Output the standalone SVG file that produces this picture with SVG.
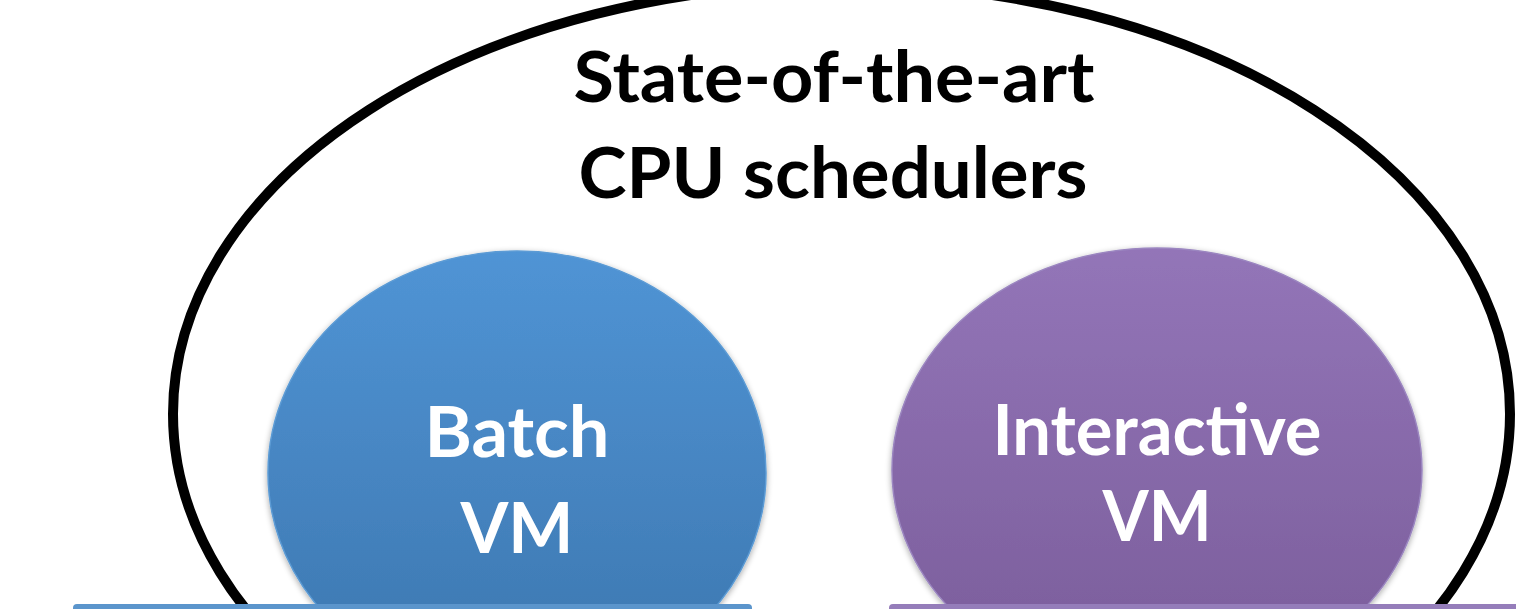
<svg xmlns="http://www.w3.org/2000/svg" width="1516" height="609" viewBox="0 0 1516 609">
  <style>
    .title { font-family: Lato, "Open Sans", "Liberation Sans", sans-serif; font-weight: 700; font-size: 70px; fill: #000000; text-anchor: middle; }
    .label { font-family: Lato, "Open Sans", "Liberation Sans", sans-serif; font-weight: 700; font-size: 70px; fill: #ffffff; text-anchor: middle; }
  </style>
  <defs>
    <linearGradient id="gBlue" x1="0" y1="0" x2="0" y2="1">
      <stop offset="0" stop-color="#5094d5"/>
      <stop offset="1" stop-color="#3c76ae"/>
    </linearGradient>
    <linearGradient id="gPurple" x1="0" y1="0" x2="0" y2="1">
      <stop offset="0" stop-color="#9375b8"/>
      <stop offset="1" stop-color="#795c99"/>
    </linearGradient>
    <filter id="shadow" x="-10%" y="-10%" width="120%" height="120%">
      <feGaussianBlur in="SourceAlpha" stdDeviation="3"/>
      <feOffset dx="0" dy="2" result="b"/>
      <feComponentTransfer><feFuncA type="linear" slope="0.35"/></feComponentTransfer>
      <feMerge><feMergeNode/><feMergeNode in="SourceGraphic"/></feMerge>
    </filter>
  </defs>
  <rect x="0" y="0" width="1516" height="609" fill="#ffffff"/>

  <g id="outer">
    <ellipse cx="841.5" cy="414" rx="668.5" ry="430" fill="none" stroke="#000000" stroke-width="10"/>
    <text class="title" x="834" y="102" textLength="521" lengthAdjust="spacingAndGlyphs">State-of-the-art</text>
    <text class="title" x="833" y="198" textLength="509" lengthAdjust="spacingAndGlyphs">CPU schedulers</text>
  </g>

  <g id="batch">
    <ellipse cx="517" cy="473" rx="249" ry="222" fill="url(#gBlue)" stroke="#5b9bd5" stroke-width="1.5" filter="url(#shadow)"/>
    <text class="label" x="517" y="457" textLength="185" lengthAdjust="spacingAndGlyphs">Batch</text>
    <text class="label" x="517" y="553" textLength="113" lengthAdjust="spacingAndGlyphs">VM</text>
  </g>

  <g id="interactive">
    <ellipse cx="1157" cy="470" rx="265" ry="222" fill="url(#gPurple)" stroke="#9b86c0" stroke-width="1.5" filter="url(#shadow)"/>
    <text class="label" x="1157" y="455" textLength="329" lengthAdjust="spacingAndGlyphs">Interactive</text>
    <text class="label" x="1157" y="541" textLength="109" lengthAdjust="spacingAndGlyphs">VM</text>
  </g>

  <g id="bars">
    <rect x="73" y="604" width="679" height="20" rx="4" fill="#5b95cc"/>
    <rect x="889" y="604" width="640" height="20" rx="4" fill="#957dba"/>
  </g>

  <g id="connectors"></g>
</svg>
